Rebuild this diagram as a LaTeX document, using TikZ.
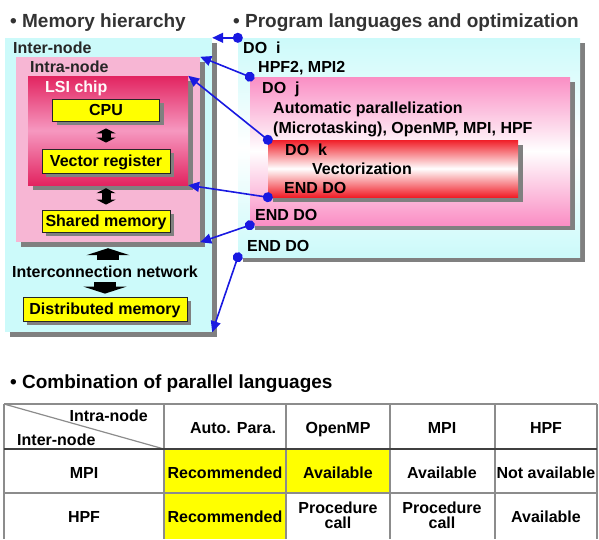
\documentclass[tikz,border=0pt]{standalone}
\usepackage{fontspec}
\setmainfont{Liberation Sans}
\usetikzlibrary{arrows.meta,shadows}
\definecolor{cyanbg}{RGB}{204,250,250}
\definecolor{pinkbg}{RGB}{247,182,212}
\definecolor{chipred}{RGB}{226,36,96}
\definecolor{chippink}{RGB}{246,152,192}
\definecolor{looppink}{RGB}{250,142,196}
\definecolor{loopred}{RGB}{240,30,40}
\definecolor{linkblue}{RGB}{25,25,225}
\definecolor{shadowgray}{RGB}{128,128,128}
\definecolor{cellyellow}{RGB}{255,255,0}
\definecolor{gridgray}{RGB}{140,140,140}

\begin{document}
\begin{tikzpicture}[x=1pt,y=-1pt,
  every node/.style={inner sep=0pt,font=\fontsize{16}{15}\selectfont\bfseries},
  level/.style={drop shadow={shadow xshift=5pt,shadow yshift=-5pt,fill=shadowgray,opacity=1}},
  unit/.style={fill=cellyellow,draw=black!85,line width=.8pt,text height=11.5pt,text depth=0pt,
    drop shadow={shadow xshift=4pt,shadow yshift=-4pt,fill=shadowgray,opacity=1}},
  title/.style={anchor=base west,font=\fontsize{19}{22}\selectfont\bfseries},
  link/.style={linkblue,line width=1.6pt,{Circle[length=10pt,width=10pt]}-{Triangle[length=11pt,width=10pt]},shorten <=-5pt},
  pair/.style={line width=9pt,{Triangle[length=5pt,width=19pt]}-{Triangle[length=5pt,width=19pt]}},
  bus/.style={line width=22pt,-{Triangle[length=7pt,width=43pt]}},
  grid/.style={gridgray,line width=1.2pt}]
  \useasboundingbox (0,0) rectangle (599,539);

  \node[title,text=black!80] (tmem) at (10,27) {• Memory hierarchy};
  \node[title,text=black!80] (tprog) at (233,27) {• Program languages and optimization};

  \node[level,fill=cyanbg,minimum width=207pt,minimum height=294pt] (internode) at (108.5,185) {};
  \node[level,fill=pinkbg,minimum width=184pt,minimum height=185pt] (intranode) at (108,149.5) {};
  \node[level,top color=chipred,bottom color=chipred,middle color=chippink,minimum width=160pt,minimum height=109pt] (lsichip) at (108,130.5) {};
  \node[unit,minimum width=107pt,minimum height=22pt] (cpu) at (106,110) {CPU};
  \node[unit,minimum width=128pt,minimum height=24pt] (vreg) at (106,161) {Vector register};
  \node[unit,minimum width=128pt,minimum height=22pt] (shmem) at (106,221) {Shared memory};
  \node[unit,minimum width=164pt,minimum height=24pt] (distmem) at (105,309) {Distributed memory};

  \node[anchor=base west,text=black!85] (tinter) at (13,53) {Inter-node};
  \node[anchor=base west,text=black!85] (tintra) at (30,72) {Intra-node};
  \node[anchor=base west,text=white!92!pink] (tlsi) at (45,92) {LSI chip};
  \node[anchor=base] (net) at (105,277) {Interconnection network};

  \draw[pair,shorten <=7pt,shorten >=6pt] (cpu) -- (vreg);
  \draw[pair,shorten <=3pt,shorten >=5pt] (shmem.north |- lsichip.south) -- (shmem.north);
  \draw[bus,shorten <=5pt,shorten >=6pt] (intranode.south |- net.north) -- (intranode.south);
  \draw[bus,shorten <=5pt,shorten >=3pt] (distmem.north |- net.south) -- (distmem.north);

  \node[level,top color=cyanbg,bottom color=cyanbg,middle color=white,minimum width=342pt,minimum height=219pt] (loopi) at (409,147.5) {};
  \node[level,top color=looppink,bottom color=looppink,middle color=white,minimum width=320pt,minimum height=148pt] (loopj) at (410,151) {};
  \node[level,top color=loopred,bottom color=loopred,middle color=white,minimum width=250pt,minimum height=57pt] (loopk) at (393,168.5) {};

  \node[anchor=base west] (doi) at (243,53) {DO\ \ i};
  \node[anchor=base west] (hpftwo) at (258,72) {HPF2, MPI2};
  \node[anchor=base west] (doj) at (262,93) {DO\ \ j};
  \node[anchor=base west] (autopar) at (273,113) {Automatic parallelization};
  \node[anchor=base west] (micro) at (273,133) {(Microtasking), OpenMP, MPI, HPF};
  \node[anchor=base west] (dok) at (285,155) {DO\ \ k};
  \node[anchor=base west] (vect) at (312,174) {Vectorization};
  \node[anchor=base west] (enddok) at (284,193) {END DO};
  \node[anchor=base west] (enddoj) at (255,220) {END DO};
  \node[anchor=base west] (enddoi) at (247,251) {END DO};

  \foreach \from/\to in {loopi.north west/internode.north east,loopj.north west/intranode.north east,
    loopk.north west/lsichip.north east,loopk.south west/lsichip.south east,
    loopj.south west/intranode.south east,loopi.south west/internode.south east}
    \draw[link] (\from) -- (\to);

  \node[title] (tcomb) at (10,388) {• Combination of parallel languages};

  \fill[cellyellow] (164,449) rectangle (286,539);
  \fill[cellyellow] (286,449) rectangle (390,493);
  \draw[grid] (4,404) -- (597,404);
  \foreach \x in {4,164,286,390,495,597}
    \draw[grid] (\x,404) -- (\x,539);
  \draw[grid] (4,493) -- (597,493);
  \draw[grid] (4,404) -- (164,449);
  \draw[black!75,line width=1.4pt] (4,449) -- (597,449);

  \node[anchor=base east] (hintra) at (148,421) {Intra-node};
  \node[anchor=base west] (hinter) at (17,445) {Inter-node};
  \foreach \x/\name/\t in {233/hauto/Auto. Para.,338/homp/OpenMP,442/hmpi/MPI,546/hhpf/HPF}
    \node[anchor=base] (\name) at (\x,433) {\t};

  \node[anchor=base] (rmpi) at (84,478) {MPI};
  \node[anchor=base] (mpiauto) at (225,478) {Recommended};
  \node[anchor=base] (mpiomp) at (338,478) {Available};
  \node[anchor=base] (mpimpi) at (442,478) {Available};
  \node[anchor=base] (mpihpf) at (546,478) {Not available};

  \node[anchor=base] (rhpf) at (84,522) {HPF};
  \node[anchor=base] (hpfauto) at (225,522) {Recommended};
  \node[anchor=base,align=center] (hpfomp) at (338,528) {Procedure\\call};
  \node[anchor=base,align=center] (hpfmpi) at (442,528) {Procedure\\call};
  \node[anchor=base] (hpfhpf) at (546,522) {Available};
\end{tikzpicture}
\end{document}
